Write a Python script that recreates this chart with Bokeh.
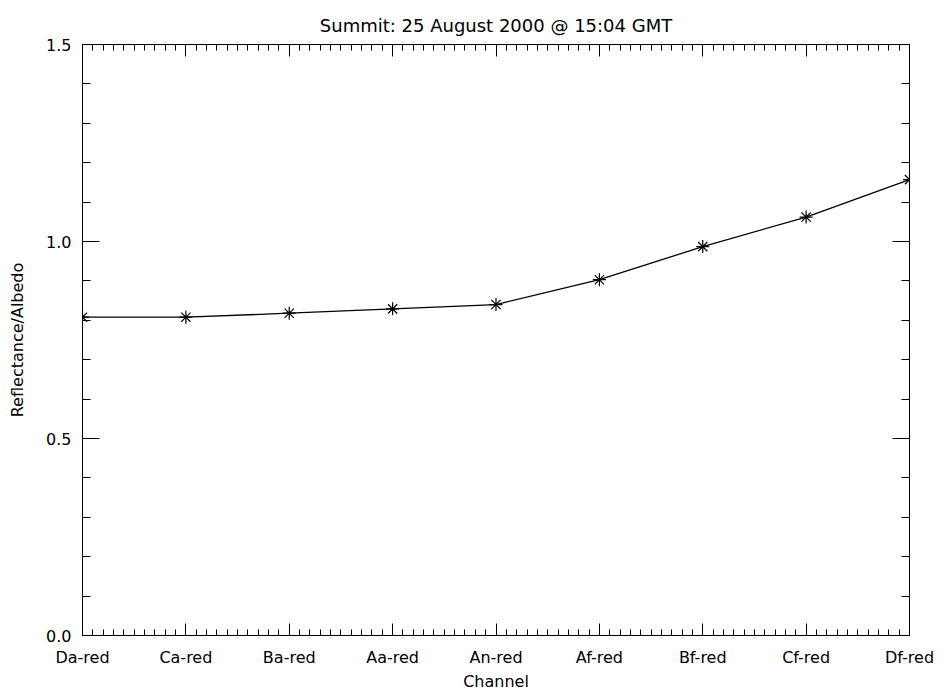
from bokeh.plotting import figure
from bokeh.models import LinearAxis, FixedTicker, Range1d, CustomJSTickFormatter
from bokeh.embed import file_html
from bokeh.resources import INLINE

# Channel names along the x axis and measured reflectance per channel
channels = ["Da-red", "Ca-red", "Ba-red", "Aa-red", "An-red",
            "Af-red", "Bf-red", "Cf-red", "Df-red"]
reflectance = [0.808, 0.808, 0.818, 0.829, 0.840, 0.903, 0.987, 1.062, 1.157]
y_ticks = [0.0, 0.5, 1.0, 1.5]

FONT = "DejaVu Sans"

x = list(range(len(channels)))
n = len(channels) - 1
x_minor = [i / 10 for i in range(0, n * 10 + 1)]
y_minor = [i / 10 for i in range(0, 16)]

p = figure(width=944, height=693, output_backend="svg", toolbar_location=None,
           x_range=Range1d(0, n), y_range=Range1d(0, 1.5),
           title="Summit: 25 August 2000 @ 15:04 GMT",
           x_axis_label="Channel", y_axis_label="Reflectance/Albedo",
           min_border_left=82, min_border_right=35,
           min_border_top=44, min_border_bottom=58)

p.title.align = "center"
p.title.text_font = FONT
p.title.text_font_style = "normal"
p.title.text_font_size = "18px"
p.title.text_color = "black"
p.title.offset = 0
p.title.standoff = 18

p.grid.visible = False
p.outline_line_color = "black"
p.outline_line_width = 1
p.background_fill_color = "white"
p.border_fill_color = "white"


def style_axis(ax, ticker, major_len, minor_len):
    ax.ticker = ticker
    ax.major_tick_in = major_len
    ax.major_tick_out = 0
    ax.minor_tick_in = minor_len
    ax.minor_tick_out = 0
    ax.major_tick_line_color = "black"
    ax.minor_tick_line_color = "black"
    ax.axis_line_color = "black"
    ax.major_label_text_font = FONT
    ax.major_label_text_color = "black"
    ax.major_label_text_font_size = "16px"
    ax.axis_label_text_font = FONT
    ax.axis_label_text_color = "black"
    ax.axis_label_text_font_style = "normal"
    ax.axis_label_text_font_size = "16px"


bottom = p.xaxis[0]
style_axis(bottom, FixedTicker(ticks=x, minor_ticks=x_minor), 12, 6)
bottom.major_label_overrides = {i: c for i, c in zip(x, channels)}
bottom.major_label_standoff = 12
bottom.axis_label_standoff = 2

left = p.yaxis[0]
style_axis(left, FixedTicker(ticks=y_ticks, minor_ticks=y_minor), 17, 8)
left.major_label_overrides = {t: f"{t:.1f}" for t in y_ticks}
left.major_label_standoff = 11
left.axis_label_standoff = 16

# Mirror axes on top and right: ticks only, no labels
blank = CustomJSTickFormatter(code="return ''")

top = LinearAxis(formatter=blank)
style_axis(top, FixedTicker(ticks=x, minor_ticks=x_minor), 12, 6)
top.major_label_standoff = 0
p.add_layout(top, "above")

right = LinearAxis(formatter=blank)
style_axis(right, FixedTicker(ticks=y_ticks, minor_ticks=y_minor), 17, 8)
right.major_label_standoff = 0
p.add_layout(right, "right")

p.line(x, reflectance, line_color="black", line_width=1.3)
p.scatter(x, reflectance, marker="asterisk", size=13,
          line_color="black", line_width=1.2)

open("out.html", "w").write(file_html(p, INLINE))
